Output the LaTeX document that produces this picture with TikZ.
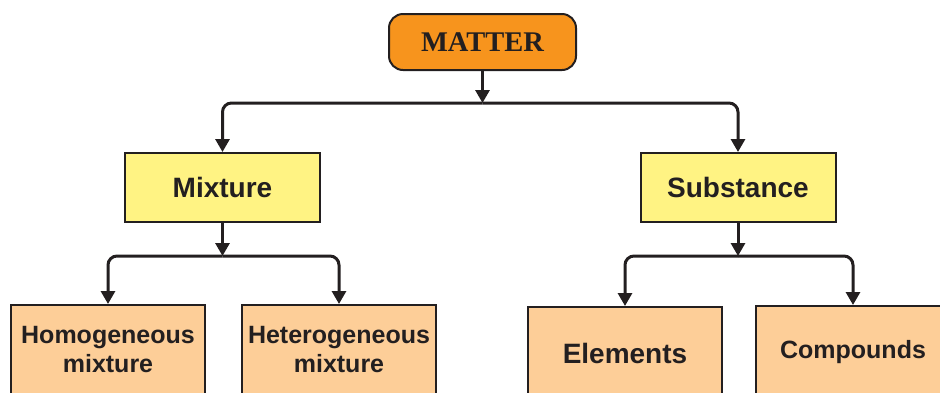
\documentclass[tikz,border=0pt]{standalone}
\usepackage{fontspec}
\setmainfont{Liberation Serif}
\setsansfont{Liberation Sans}
\usetikzlibrary{arrows.meta}

\definecolor{mattercol}{HTML}{F7941D}
\definecolor{kindcol}{HTML}{FFF383}
\definecolor{leafcol}{HTML}{FDCE98}
\definecolor{inkcol}{HTML}{231F20}

\begin{document}
\begin{tikzpicture}[x=1pt,y=-1pt,>={Triangle[width=14pt,length=13pt]},
	conn/.style={->,line width=3pt,draw=inkcol,rounded corners=9pt},
	kind/.style={draw=inkcol,line width=2pt,fill=kindcol,text=inkcol,minimum width=195pt,minimum height=69pt,font=\sffamily\bfseries\fontsize{28}{34}\selectfont},
	leaf/.style={draw=inkcol,line width=2pt,fill=leafcol,text=inkcol,minimum width=194pt,inner sep=0pt,anchor=base,font=\sffamily\bfseries\fontsize{25}{29}\selectfont}]
				\useasboundingbox (0,0) rectangle (940,392);
				\clip (0,0) rectangle (940,392);

				\node[draw=inkcol,line width=2pt,fill=mattercol,text=inkcol,rounded corners=14pt,minimum width=187pt,minimum height=56pt,font=\rmfamily\bfseries\fontsize{28.5}{33}\selectfont] (mat) at (482.5, 42) {MATTER};

				\node[kind] (mix) at (222.5, 187.5) {Mixture};
				\node[kind] (sub) at (738, 187.5) {Substance};

				\node[leaf,text height=67pt,text depth=40pt] (hom) at (108, 372) {\begin{tabular}[b]{@{}c@{}}Homogeneous\\mixture\end{tabular}};
				\node[leaf,text height=67pt,text depth=40pt] (het) at (339, 372) {\begin{tabular}[b]{@{}c@{}}Heterogeneous\\mixture\end{tabular}};
				\node[leaf,text height=56pt,text depth=50pt,font=\sffamily\bfseries\fontsize{28}{33}\selectfont] (ele) at (625, 363) {Elements};
				\node[leaf,text height=52pt,text depth=50pt] (com) at (853, 358) {Compounds};

				\coordinate (jmat) at (482.5, 103);
				\coordinate (jmix) at (222.5, 256);
				\coordinate (jsub) at (738, 256);

				\draw[conn] (mat) -- (jmat);
				\draw[conn] (jmat) -| (mix.north);
				\draw[conn] (jmat) -| (sub.north);

				\draw[conn] (mix) -- (jmix);
				\draw[conn] (jmix) -| (hom.north);
				\draw[conn] (jmix) -| (het.north);

				\draw[conn] (sub) -- (jsub);
				\draw[conn] (jsub) -| (ele.north);
				\draw[conn] (jsub) -| (com.north);
			\end{tikzpicture}
\end{document}
